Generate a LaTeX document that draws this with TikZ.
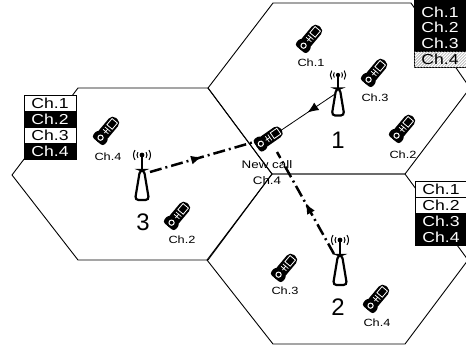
\documentclass[tikz,border=0pt]{standalone}
\usepackage{fontspec}
\setmainfont{Liberation Sans}
\usetikzlibrary{arrows.meta,decorations.markings,patterns}
\def\wide#1{\scalebox{1.22}[1]{#1}}
\tikzset{
	cell/.style={draw, line width=0.8bp, minimum width=52bp, minimum height=16bp, inner sep=0pt,
		text height=10bp, text depth=0bp, font=\fontsize{14.5}{15}\selectfont},
	chbusy/.style={cell, fill=black, text=white},
	chfree/.style={cell, fill=white},
	chhatch/.style={cell, fill=white, postaction={pattern=north east lines, pattern color=black!45}},
	mslabel/.style={inner sep=0pt, font=\fontsize{10.5}{11}\selectfont},
	cellno/.style={inner sep=0pt, font=\fontsize{24}{24}\selectfont},
	hexcell/.style={line width=0.9bp},
	uplink/.style={line width=0.8bp, postaction={decorate},
		decoration={markings, mark=at position 0.5 with {\arrow{Latex[length=11bp,width=9bp]}}}},
	handoff/.style={line width=2.5bp, dash pattern=on 12bp off 4bp on 2bp off 4bp, postaction={decorate},
		decoration={markings, mark=at position 0.5 with {\arrow{Latex[length=11bp,width=9bp]}}}},
	handset/.pic={
		\fill[rounded corners=5bp] (-6,-15) rectangle (6,15);
		\fill[rounded corners=3bp] (-7.5,6) rectangle (7.5,15);
		\draw[white, line width=0.8bp] (-3.5,-12) rectangle (3.5,-4);
		\draw[white, line width=0.7bp] (-3.5,-1) -- (3.5,-1) (-3.5,2) -- (3.5,2) (0,-1) -- (0,4);
		\draw[white, line width=1bp] (0,10) circle (2.6bp);
	},
	tower/.pic={
		\draw[line width=2.4bp] (0,0) -- (0,17);
		\fill (0,0) circle (2.4bp);
		\draw[line width=1bp] (145:5) arc (145:215:5);
		\draw[line width=1bp] (145:8.5) arc (145:215:8.5);
		\draw[line width=1bp] (-35:5) arc (-35:35:5);
		\draw[line width=1bp] (-35:8.5) arc (-35:35:8.5);
		\draw[line width=2.2bp, fill=white, rounded corners=3.5bp] (-2,15) -- (-7,45) -- (7,45) -- (2,15) -- cycle;
	}
}

\begin{document}
\begin{tikzpicture}[x=1bp, y=-1bp]
	\useasboundingbox (0,0) rectangle (466,347);

	%%%%% cells %%%%%
	\draw[hexcell] (78,88) -- (208,88) -- (272,174) -- (208,260) -- (78,260) -- (12,175) -- cycle;
	\draw[hexcell] (208,88) -- (273,3) -- (411,3) -- (470,88) -- (405,174) -- (272,174) -- cycle;
	\draw[hexcell] (272,174) -- (405,174) -- (468,260) -- (405,344) -- (273,344) -- (207,260) -- cycle;

	%%%%% channel tables %%%%%
	\node[chbusy, minimum height=21bp, text height=16bp] (t1c1) at (440,9) {\wide{Ch.1}};
	\node[chbusy] (t1c2) at (440,27.5) {\wide{Ch.2}};
	\node[chbusy] (t1c3) at (440,43.5) {\wide{Ch.3}};
	\node[chhatch] (t1c4) at (440,59.5) {\wide{Ch.4}};

	\node[chfree] (t3c1) at (50,103) {\wide{Ch.1}};
	\node[chbusy] (t3c2) at (50,119) {\wide{Ch.2}};
	\node[chfree] (t3c3) at (50,135) {\wide{Ch.3}};
	\node[chbusy] (t3c4) at (50,151) {\wide{Ch.4}};

	\node[chfree] (t2c1) at (441,189.5) {\wide{Ch.1}};
	\node[chfree] (t2c2) at (441,205.5) {\wide{Ch.2}};
	\node[chbusy] (t2c3) at (441,221.5) {\wide{Ch.3}};
	\node[chbusy] (t2c4) at (441,237.5) {\wide{Ch.4}};

	%%%%% links to the new call %%%%%
	\coordinate (mast1) at (335,94);
	\coordinate (mast2) at (334,254);
	\coordinate (mast3) at (150,172);
	\coordinate (callin1) at (280,131);
	\coordinate (callin2) at (277,152);
	\coordinate (callin3) at (254,142);

	\draw[uplink] (mast1) -- (callin1);
	\draw[handoff] (mast3) -- (callin3);
	\draw[handoff] (mast2) -- (callin2);

	%%%%% base stations %%%%%
	\pic at (338,75) [scale=0.9] {tower};
	\pic at (142,155) {tower};
	\pic at (340,240) {tower};

	\node[cellno] (no1) at (338,140) {1};
	\node[cellno] (no3) at (143,222) {3};
	\node[cellno] (no2) at (338,307) {2};

	%%%%% mobiles %%%%%
	\pic[rotate=-40] at (310,38) {handset};
	\pic[rotate=-40] at (375,72) {handset};
	\pic[rotate=-40] at (403,128) {handset};
	\pic[rotate=-55] at (269,138) {handset};
	\pic[rotate=-40] at (107,130) {handset};
	\pic[rotate=-40] at (178,215) {handset};
	\pic[rotate=-40] at (285,267) {handset};
	\pic[rotate=-40] at (377,298) {handset};

	\node[mslabel] (ms11) at (311,63) {\wide{Ch.1}};
	\node[mslabel] (ms13) at (375,98) {\wide{Ch.3}};
	\node[mslabel] (ms12) at (403,155) {\wide{Ch.2}};
	\node[mslabel] (ms34) at (108,157) {\wide{Ch.4}};
	\node[mslabel] (ms32) at (182,240) {\wide{Ch.2}};
	\node[mslabel] (ms23) at (285,291) {\wide{Ch.3}};
	\node[mslabel] (ms24) at (377,323) {\wide{Ch.4}};
	\node[mslabel, font=\fontsize{11}{12}\selectfont] (newcall) at (267,165) {\wide{New call}};
	\node[mslabel, font=\fontsize{11}{12}\selectfont] (newch) at (267,181) {\wide{Ch.4}};
\end{tikzpicture}
\end{document}
